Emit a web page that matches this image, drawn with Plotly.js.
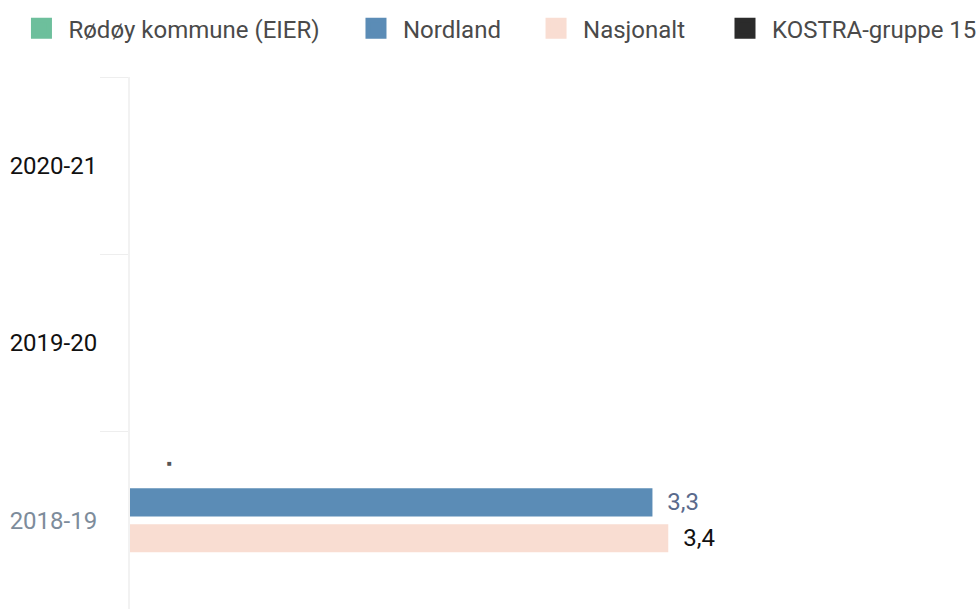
<!DOCTYPE html>
<html>
<head>
<meta charset="utf-8">
<script src="https://cdn.plot.ly/plotly-3.0.1.min.js"></script>
<style>
  body { margin: 0; background: #fff; }
  #chart { width: 977px; height: 609px; }
</style>
</head>
<body>
<div id="chart"></div>
<script>
// years, bottom to top as plotly lays out categories
const years = ["2018-19", "2019-20", "2020-21"];
const yearLabels = [
    '<span style="color:#7d8c9b">2018-19</span>',
    "2019-20",
    "2020-21"
];

const seriesNames = ["Rødøy kommune (EIER)", "Nordland", "Nasjonalt", "KOSTRA-gruppe 15"];
const seriesColors = ["#6dbf9c", "#5b8cb6", "#f9ddd2", "#2b2b2b"];

const rodoy = [null, null, null];
const nordland = [3.3, null, null];
const nasjonalt = [3.4, null, null];
const kostra = [null, null, null];

const labelColors = ["#555555", "#5a6a8c", "#111111", "#111111"];
// one legend box per series, left edges (share of the page width)
const legendX = [0.0148, 0.3572, 0.5415, 0.7349];

// grouped horizontal bars put the first trace at the bottom,
// so they go in reversed order; legend entries are separate
const values = [rodoy, nordland, nasjonalt, kostra];
var data = [];
for (let i = values.length - 1; i >= 0; i--) {
    data.push({
        type: "bar",
        orientation: "h",
        y: years,
        x: values[i],
        name: seriesNames[i],
        marker: {color: seriesColors[i]},
        texttemplate: "\u00a0\u00a0%{x:.1f}",
        textposition: "outside",
        outsidetextfont: {family: "Roboto", size: 24, color: labelColors[i]},
        cliponaxis: false,
        showlegend: false,
        hoverinfo: "x+name"
    });
}

var layout = {
    width: 977,
    height: 609,
    margin: {l: 130, r: 0, t: 77, b: 0},
    paper_bgcolor: "#ffffff",
    plot_bgcolor: "#ffffff",
    font: {family: "Roboto", size: 24, color: "#222"},
    separators: ", ",
    barmode: "group",
    bargap: 0.19,
    bargroupgap: 0.22,
    showlegend: true,
    xaxis: {
        range: [0, 5.35],
        visible: false,
        fixedrange: true
    },
    yaxis: {
        type: "category",
        categoryorder: "array",
        categoryarray: years,
        tickvals: years,
        ticktext: yearLabels,
        range: [-0.5, 2.5],
        ticks: "outside",
        tickson: "boundaries",
        ticklen: 28,
        tickcolor: "#eeeeee",
        ticklabelstandoff: 26,
        showline: true,
        linecolor: "#f2f2f2",
        linewidth: 2,
        showgrid: false,
        zeroline: false,
        tickfont: {family: "Roboto", size: 24, color: "#111111"},
        fixedrange: true
    },
    annotations: [{
        x: 0.25,
        y: "2018-19",
        yshift: 57,
        text: "■",
        showarrow: false,
        font: {size: 8, color: "#555"}
    }]
};

for (let i = 0; i < seriesNames.length; i++) {
    const key = i === 0 ? "legend" : "legend" + (i + 1);
    layout[key] = {
        orientation: "h",
        xref: "container",
        yref: "container",
        x: legendX[i],
        y: 0.99,
        xanchor: "left",
        yanchor: "top",
        itemwidth: 44,
        bgcolor: "rgba(0,0,0,0)",
        font: {family: "Roboto", size: 24, color: "#4a4a4a"},
        itemclick: false
    };
    data.push({
        type: "scatter",
        mode: "markers",
        x: [null],
        y: [null],
        name: seriesNames[i],
        legend: key,
        marker: {
            symbol: "square",
            size: 16,
            color: seriesColors[i],
            line: {color: seriesColors[i], width: 5}
        },
        hoverinfo: "skip"
    });
}

Plotly.newPlot("chart", data, layout, {displayModeBar: false, staticPlot: true});
</script>
</body>
</html>
